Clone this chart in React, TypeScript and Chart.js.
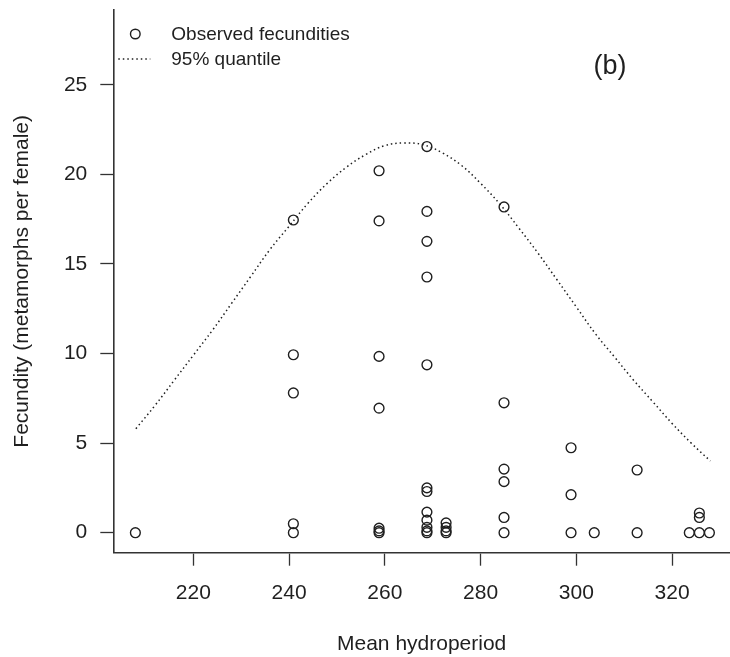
import React, { useEffect, useRef } from "react";
import { Chart, registerables } from "chart.js";

Chart.register(...registerables);

// Observed fecundity per female at each pond's mean hydroperiod
const obsHydroperiod = [
  207.9,
  240.9, 240.9, 240.9, 240.9, 240.9,
  258.8, 258.8, 258.8, 258.8, 258.8, 258.8, 258.8,
  268.8, 268.8, 268.8, 268.8, 268.8, 268.8, 268.8, 268.8, 268.8, 268.8, 268.8, 268.8,
  272.8, 272.8, 272.8, 272.8,
  284.9, 284.9, 284.9, 284.9, 284.9, 284.9,
  298.9, 298.9, 298.9,
  303.75,
  312.7, 312.7,
  323.6,
  325.7, 325.7, 325.7,
  327.8,
];
const obsFecundity = [
  0,
  17.45, 9.93, 7.8, 0.5, 0,
  20.2, 17.4, 9.84, 6.95, 0.25, 0.1, 0,
  21.55, 17.93, 16.26, 14.27, 9.37, 2.5, 2.3, 1.15, 0.7, 0.3, 0.1, 0,
  0.55, 0.3, 0.1, 0,
  18.18, 7.25, 3.55, 2.85, 0.85, 0,
  4.74, 2.12, 0,
  0,
  3.5, 0,
  0,
  1.1, 0.85, 0,
  0,
];

// 95% quantile of the fitted fecundity curve
const quantileHydroperiod = [
  208, 212, 216, 220, 224, 228, 232, 236, 240, 244, 248, 252, 256, 260, 264,
  268, 272, 276, 280, 284, 288, 292, 296, 300, 304, 308, 312, 316, 320, 324, 328,
];
const quantileFecundity = [
  5.8, 7.1, 8.5, 9.9, 11.3, 12.8, 14.3, 15.8, 17.1, 18.4, 19.5, 20.4, 21.1, 21.6, 21.75,
  21.65, 21.2, 20.5, 19.5, 18.35, 17.0, 15.6, 14.1, 12.6, 11.1, 9.8, 8.5, 7.3, 6.1, 5.0, 4.0,
];

const xTicks = [220, 240, 260, 280, 300, 320];
const yTicks = [0, 5, 10, 15, 20, 25];

const xTitle = "Mean hydroperiod";
const yTitle = "Fecundity (metamorphs per female)";
const legendLabels = ["Observed fecundities", "95% quantile"];
const panelTag = "(b)";

const INK = "#1f1f1f";
const AXIS = "#333333";
const FONT = '"Liberation Sans", Arial, Helvetica, sans-serif';

const overlayPlugin = {
  id: "panelOverlay",
  afterDraw(chart: any) {
    const { ctx, chartArea } = chart;
    const lx = chartArea.left;
    const ty = chartArea.top;
    ctx.save();
    ctx.strokeStyle = INK;
    ctx.fillStyle = INK;
    ctx.lineWidth = 1.4;
    // legend: point symbol
    ctx.beginPath();
    ctx.arc(lx + 22, ty + 24, 4.8, 0, Math.PI * 2);
    ctx.stroke();
    // legend: dotted line
    ctx.setLineDash([1.5, 3]);
    ctx.beginPath();
    ctx.moveTo(lx + 5, ty + 49);
    ctx.lineTo(lx + 37, ty + 49);
    ctx.stroke();
    ctx.setLineDash([]);
    ctx.font = `19px ${FONT}`;
    ctx.textAlign = "left";
    ctx.textBaseline = "middle";
    ctx.fillText(legendLabels[0], lx + 58, ty + 25);
    ctx.fillText(legendLabels[1], lx + 58, ty + 50);
    // panel tag
    ctx.font = `27px ${FONT}`;
    ctx.textAlign = "center";
    ctx.fillText(panelTag, 610, ty + 57);
    ctx.restore();
  },
};

export default function App() {
  const canvasRef = useRef<HTMLCanvasElement | null>(null);

  useEffect(() => {
    const canvas = canvasRef.current;
    if (!canvas) return;

    const chart = new Chart(canvas, {
      type: "scatter",
      data: {
        datasets: [
          {
            label: legendLabels[0],
            data: obsHydroperiod.map((x, i) => ({ x, y: obsFecundity[i] })),
            pointStyle: "circle",
            pointRadius: 4.9,
            pointBorderWidth: 1.4,
            pointBorderColor: INK,
            pointBackgroundColor: "rgba(0,0,0,0)",
            showLine: false,
          },
          {
            label: legendLabels[1],
            type: "line",
            data: quantileHydroperiod.map((x, i) => ({ x, y: quantileFecundity[i] })),
            borderColor: INK,
            borderWidth: 1.5,
            borderDash: [1.5, 3],
            pointRadius: 0,
            tension: 0.4,
            fill: false,
          } as any,
        ],
      },
      options: {
        responsive: false,
        animation: false,
        events: [],
        layout: { autoPadding: false, padding: { top: 10, left: 0, right: 0, bottom: 0 } },
        plugins: {
          legend: { display: false },
          tooltip: { enabled: false },
        },
        scales: {
          x: {
            type: "linear",
            min: 203.29,
            max: 332.1,
            afterFit: (scale: any) => {
              scale.height = 104.3;
              scale.paddingLeft = 0;
              scale.paddingRight = 0;
            },
            afterBuildTicks: (scale: any) => {
              scale.ticks = xTicks.map((value) => ({ value }));
            },
            grid: {
              display: true,
              drawOnChartArea: false,
              drawTicks: true,
              tickLength: 13,
              tickWidth: 1.3,
              tickColor: AXIS,
            },
            border: { display: true, color: AXIS, width: 1.6 },
            ticks: {
              color: INK,
              padding: 15,
              maxRotation: 0,
              font: { family: FONT, size: 21 },
            },
            title: {
              display: true,
              text: xTitle,
              color: INK,
              padding: { top: 0, bottom: 0 },
              font: { family: FONT, size: 21 },
            },
          },
          y: {
            type: "linear",
            min: -1.116,
            max: 29.17,
            afterFit: (scale: any) => {
              scale.width = 113.3;
              scale.paddingTop = 0;
              scale.paddingBottom = 0;
            },
            afterBuildTicks: (scale: any) => {
              scale.ticks = yTicks.map((value) => ({ value }));
            },
            grid: {
              display: true,
              drawOnChartArea: false,
              drawTicks: true,
              tickLength: 13,
              tickWidth: 1.3,
              tickColor: AXIS,
            },
            border: { display: true, color: AXIS, width: 1.6 },
            ticks: {
              color: INK,
              padding: 13,
              font: { family: FONT, size: 21 },
            },
            title: {
              display: true,
              text: yTitle,
              color: INK,
              padding: { top: 10, bottom: 0 },
              font: { family: FONT, size: 21 },
            },
          },
        },
      },
      plugins: [overlayPlugin],
    });

    return () => chart.destroy();
  }, []);

  return (
    <div style={{ position: "absolute", left: 0, top: 0, width: 730, height: 657, background: "#ffffff" }}>
      <canvas ref={canvasRef} width={730} height={657} style={{ display: "block" }} />
    </div>
  );
}
